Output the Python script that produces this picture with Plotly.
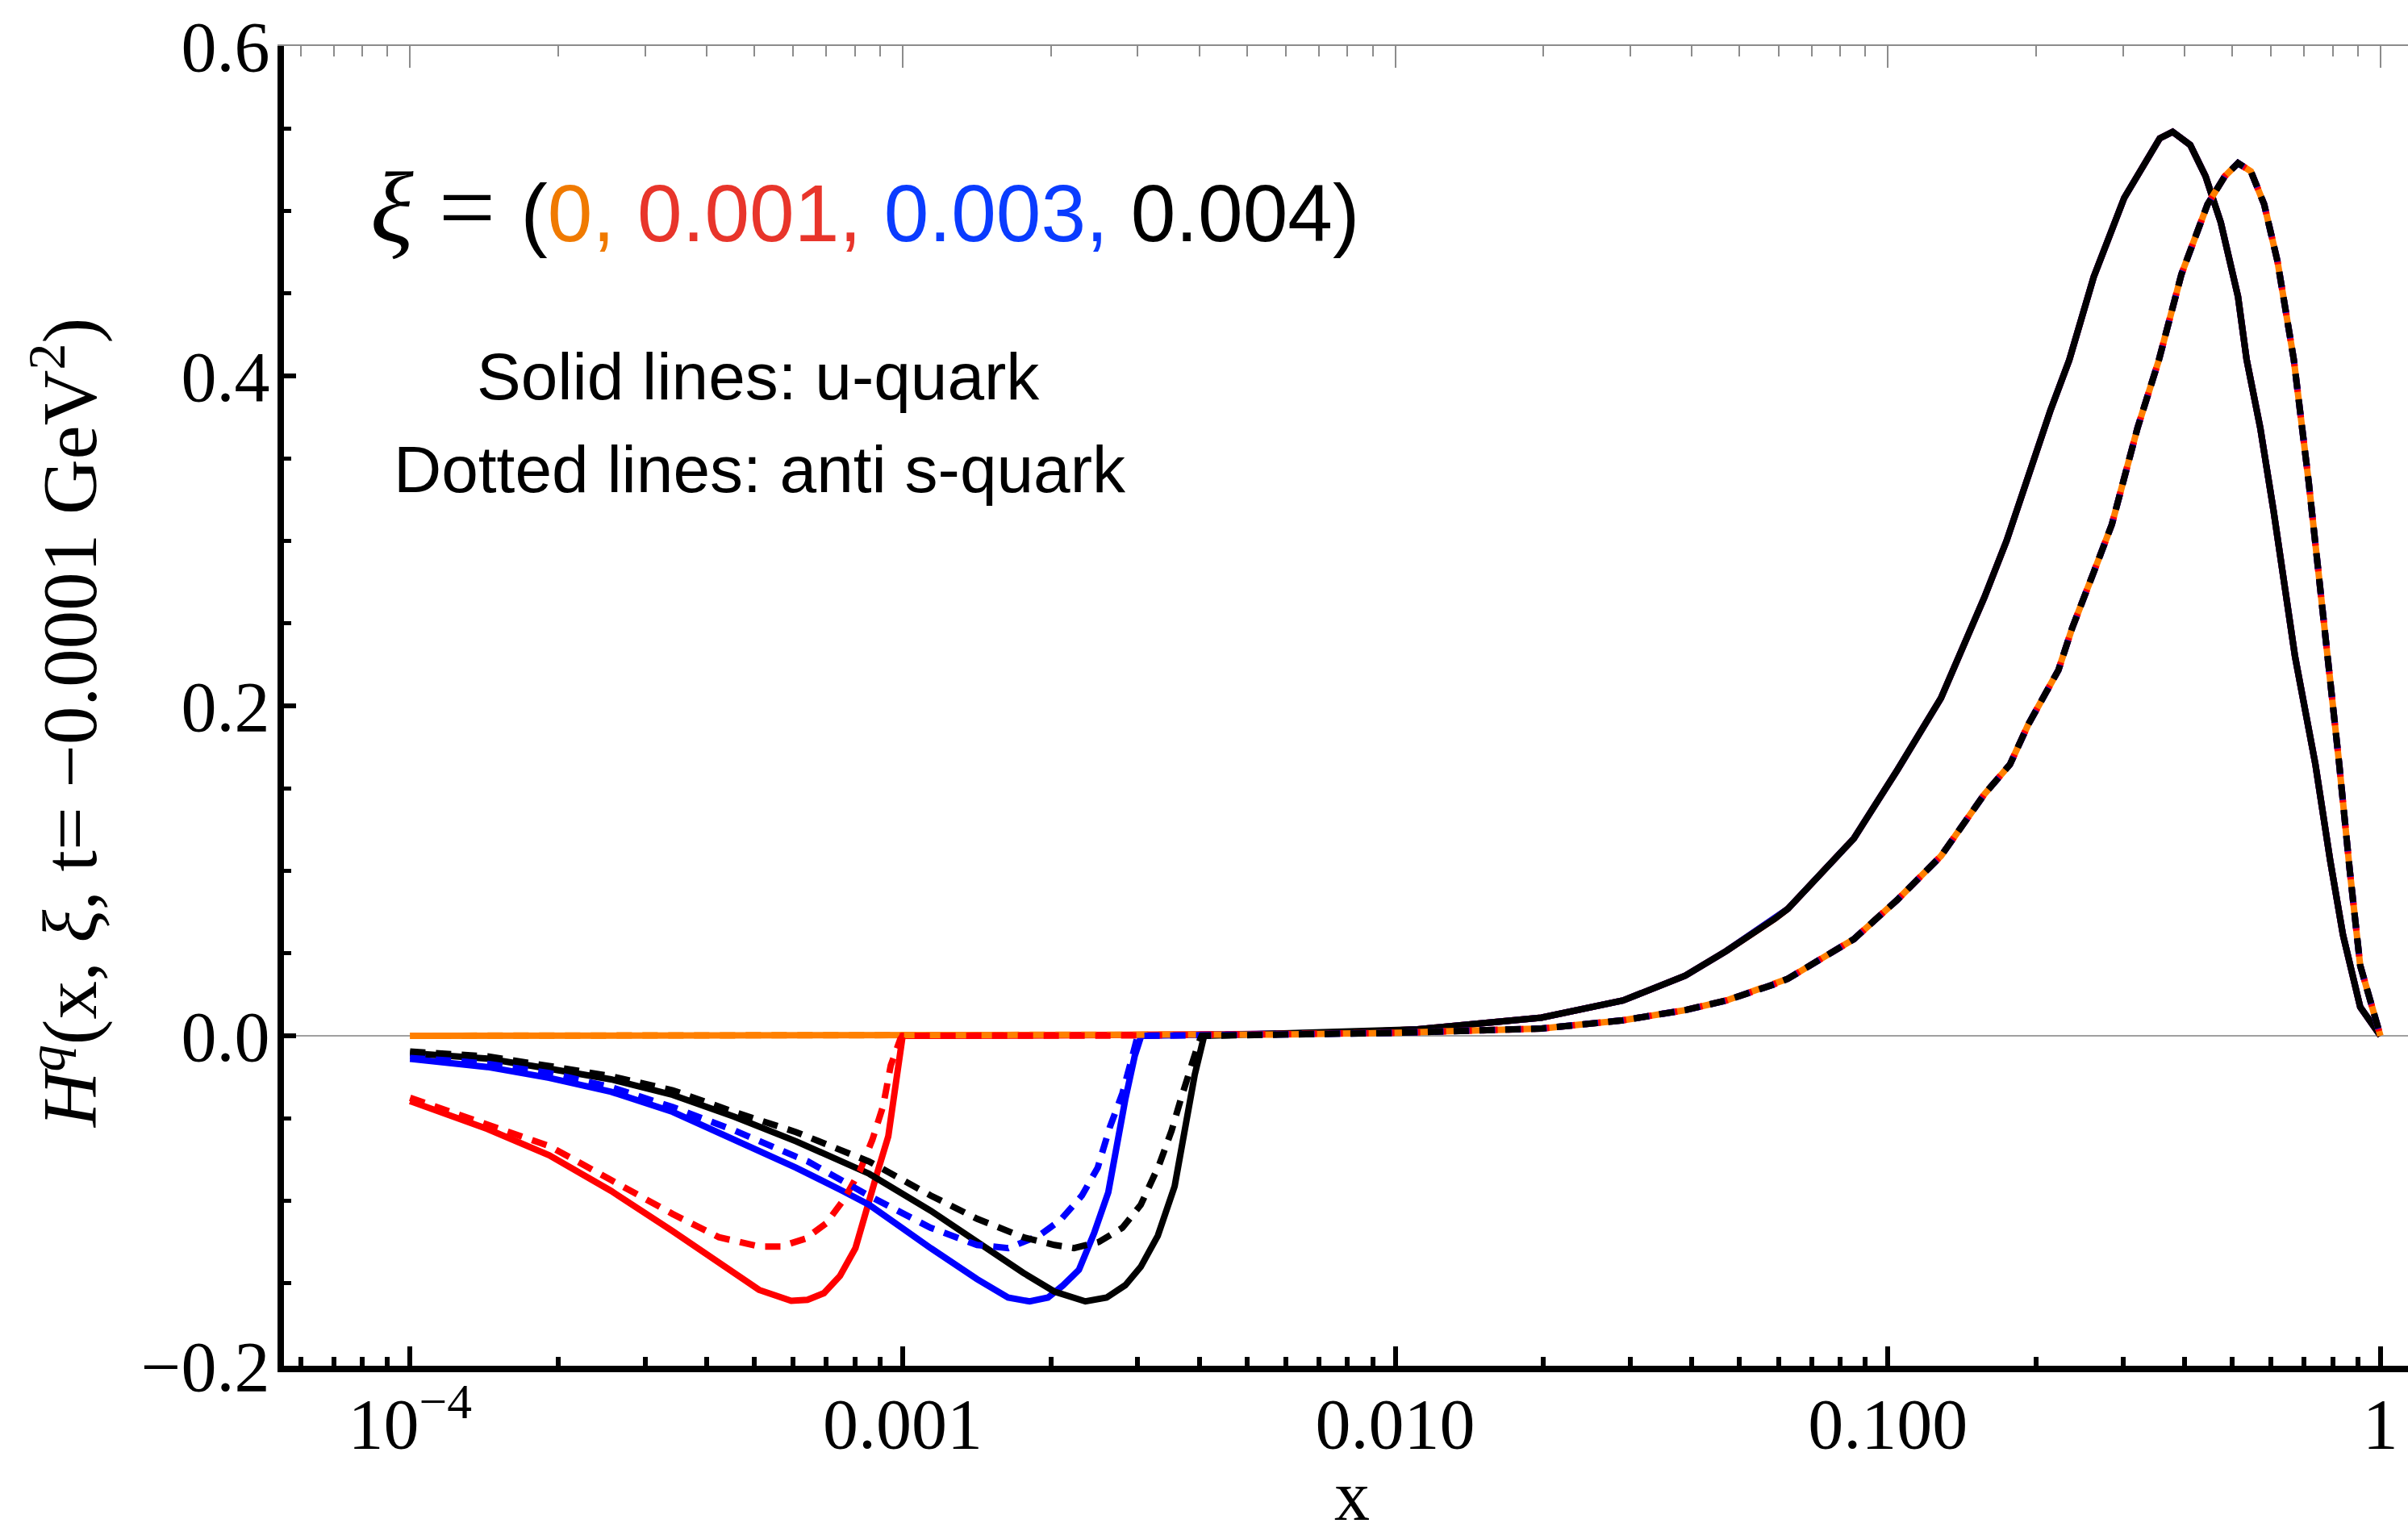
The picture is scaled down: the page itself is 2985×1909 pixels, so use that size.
import plotly.graph_objects as go

# ---------------- data ----------------
# shared curves for x >= xi (all xi values coincide there)
x_u_large = [1.0e-4, 1.0e-3, 2.0e-3, 3.0e-3, 4.0e-3, 6.0e-3, 8.0e-3, 0.0111, 0.0198, 0.029, 0.0388,
             0.047, 0.059, 0.0627, 0.0853, 0.1045, 0.1282, 0.1419, 0.157, 0.1742, 0.2138, 0.2335,
             0.2618, 0.302, 0.3565, 0.3786, 0.4111, 0.4416, 0.4742, 0.514, 0.535, 0.5702, 0.607,
             0.671, 0.738, 0.7907, 0.8395, 0.9099, 1.0]
y_u_large = [0.0, 0.0, 0.0002, 0.0004, 0.0006, 0.0012, 0.002, 0.0039, 0.011, 0.0214, 0.0365,
             0.0514, 0.071, 0.077, 0.1196, 0.161, 0.2047, 0.2357, 0.2657, 0.30, 0.379, 0.4096,
             0.46, 0.508, 0.544, 0.548, 0.540, 0.521, 0.493, 0.448, 0.41, 0.3686, 0.318,
             0.2298, 0.1645, 0.1063, 0.0612, 0.0174, 0.0]

x_s_large = [1.0e-4, 1.0e-3, 3.0e-3, 6.0e-3, 0.01, 0.0198, 0.029, 0.0388, 0.047, 0.059, 0.0627,
             0.0853, 0.1045, 0.1282, 0.157, 0.177, 0.1928, 0.222, 0.2366, 0.2618, 0.285, 0.3214,
             0.355, 0.3945, 0.4457, 0.4831, 0.514, 0.5458, 0.5808, 0.618, 0.6427, 0.667, 0.715,
             0.751, 0.78, 0.825, 0.866, 0.9099, 1.0]
y_s_large = [0.0, 0.0, 0.0002, 0.0008, 0.0018, 0.0044, 0.0094, 0.0156, 0.0214, 0.0314, 0.0346,
             0.0586, 0.0824, 0.109, 0.1464, 0.1645, 0.1887, 0.2217, 0.247, 0.281, 0.31, 0.3686,
             0.4096, 0.4616, 0.504, 0.521, 0.529, 0.524, 0.504, 0.4696, 0.4377, 0.41, 0.336,
             0.279, 0.238, 0.1645, 0.101, 0.0426, 0.0]

# xi = 0.001 (red), region x < xi
x_u_r = [1.0e-4, 1.436e-4, 1.916e-4, 2.559e-4, 3.412e-4, 4.236e-4, 5.11e-4, 5.94e-4, 6.41e-4,
         6.92e-4, 7.46e-4, 8.02e-4, 8.43e-4, 8.87e-4, 9.35e-4, 9.66e-4, 1.0e-3]
y_u_r = [-0.0396, -0.0565, -0.0724, -0.094, -0.1184, -0.138, -0.154, -0.1606, -0.160,
         -0.156, -0.1456, -0.1287, -0.108, -0.0836, -0.061, -0.031, 0.0]
x_s_r = [1.0e-4, 1.436e-4, 1.916e-4, 2.559e-4, 3.412e-4, 4.236e-4, 5.11e-4, 5.65e-4, 6.35e-4,
         6.99e-4, 7.62e-4, 8.19e-4, 8.68e-4, 9.13e-4, 9.46e-4, 9.89e-4, 1.0e-3]
y_s_r = [-0.0376, -0.0537, -0.0668, -0.0874, -0.108, -0.1221, -0.1277, -0.1277, -0.123,
         -0.1137, -0.0987, -0.0818, -0.063, -0.0424, -0.0179, -0.002, 0.0]

# xi = 0.003 (blue)
x_u_b = [1.0e-4, 1.436e-4, 1.916e-4, 2.559e-4, 3.412e-4, 4.55e-4, 6.08e-4, 7.55e-4, 8.55e-4,
         1.14e-3, 1.416e-3, 1.637e-3, 1.811e-3, 1.972e-3, 2.118e-3, 2.28e-3, 2.449e-3, 2.615e-3,
         2.71e-3, 2.831e-3, 2.958e-3, 3.05e-3]
y_u_b = [-0.0139, -0.0189, -0.0255, -0.0339, -0.0461, -0.063, -0.080, -0.094, -0.1024,
         -0.1287, -0.1475, -0.1587, -0.161, -0.1587, -0.1512, -0.1418, -0.1193, -0.0949,
         -0.0686, -0.0386, -0.0124, 0.0]
x_s_b = [1.0e-4, 1.436e-4, 1.916e-4, 2.559e-4, 3.412e-4, 4.55e-4, 6.08e-4, 6.41e-4, 8.55e-4,
         1.14e-3, 1.416e-3, 1.637e-3, 1.891e-3, 2.089e-3, 2.312e-3, 2.489e-3, 2.633e-3, 2.793e-3,
         2.893e-3, 3.0e-3]
y_s_b = [-0.0124, -0.017, -0.0226, -0.0311, -0.0432, -0.0573, -0.0733, -0.076, -0.097,
         -0.1164, -0.1268, -0.1287, -0.1212, -0.1118, -0.0968, -0.0799, -0.0555, -0.0349,
         -0.018, 0.0]

# xi = 0.004 (black)
x_u_k = [1.0e-4, 1.436e-4, 1.916e-4, 2.559e-4, 3.412e-4, 4.55e-4, 6.08e-4, 8.55e-4, 1.14e-3,
         1.416e-3, 1.758e-3, 2.032e-3, 2.35e-3, 2.594e-3, 2.831e-3, 3.044e-3, 3.296e-3, 3.566e-3,
         3.75e-3, 3.917e-3, 4.093e-3]
y_u_k = [-0.0105, -0.0138, -0.0199, -0.0264, -0.0358, -0.049, -0.064, -0.0836, -0.106,
         -0.125, -0.1437, -0.155, -0.161, -0.1587, -0.1512, -0.140, -0.1212, -0.0912,
         -0.0555, -0.0236, 0.0]
x_s_k = [1.0e-4, 1.436e-4, 1.916e-4, 2.559e-4, 3.412e-4, 4.55e-4, 6.08e-4, 8.55e-4, 1.14e-3,
         1.416e-3, 1.758e-3, 2.032e-3, 2.228e-3, 2.501e-3, 2.793e-3, 3.044e-3, 3.319e-3, 3.516e-3,
         3.669e-3, 3.832e-3, 3.981e-3, 4.046e-3]
y_s_k = [-0.0095, -0.0125, -0.0183, -0.0245, -0.033, -0.0462, -0.0584, -0.0762, -0.0968,
         -0.1109, -0.1221, -0.1268, -0.1287, -0.125, -0.1164, -0.1024, -0.078, -0.0574,
         -0.0386, -0.0199, -0.005, 0.0]

xi_labels = ["0", "0.001", "0.003", "0.004"]
colors = ["#FF8000", "#FF0000", "#0000FF", "#000000"]
text_colors = ["#F07A00", "#E8352B", "#0A3CFF", "#000000"]

x_tickvals = [1e-4, 1e-3, 1e-2, 1e-1, 1.0]
x_ticktext = ["10<sup>\u22124</sup>", "0.001", "0.010", "0.100", "1"]
y_tickvals = [-0.2, 0.0, 0.2, 0.4, 0.6]
y_ticktext = ["\u22120.2", "0.0", "0.2", "0.4", "0.6"]


def join(xs, ys, xl, yl):
    """small-x branch followed by the shared large-x branch (points beyond its end)."""
    xe = xs[-1]
    ox = list(xs) + [a for a in xl if a > xe]
    oy = list(ys) + [b for a, b in zip(xl, yl) if a > xe]
    return ox, oy


solid_sets = [(x_u_large, y_u_large)] + [join(a, b, x_u_large, y_u_large)
                                         for a, b in [(x_u_r, y_u_r), (x_u_b, y_u_b), (x_u_k, y_u_k)]]
dash_sets = [(x_s_large, y_s_large)] + [join(a, b, x_s_large, y_s_large)
                                        for a, b in [(x_s_r, y_s_r), (x_s_b, y_s_b), (x_s_k, y_s_k)]]

fig = go.Figure()
LW = 8
for (xx, yy), c in zip(solid_sets, colors):
    fig.add_trace(go.Scatter(x=xx, y=yy, mode="lines", line=dict(color=c, width=LW),
                             showlegend=False, hoverinfo="skip"))
for (xx, yy), c in zip(dash_sets, colors):
    fig.add_trace(go.Scatter(x=xx, y=yy, mode="lines",
                             line=dict(color=c, width=LW, dash="19px,13px"),
                             showlegend=False, hoverinfo="skip"))

# dummy trace to create the gray top (mirror) axis
fig.add_trace(go.Scatter(x=x_u_large[:1], y=y_u_large[:1], xaxis="x2", mode="markers",
                         marker=dict(opacity=0), showlegend=False, hoverinfo="skip"))

minor_x = [m * 10.0 ** e for e in range(-5, 0) for m in range(2, 10)]
XR = [-4.256, 0.056]
serif = "Liberation Serif"
sans = "Liberation Sans"

fig.update_layout(
    width=2985, height=1909,
    margin=dict(l=352, r=0, t=57, b=216),
    plot_bgcolor="white", paper_bgcolor="white",
    xaxis=dict(type="log", range=XR, showline=True, linecolor="black", linewidth=8,
               ticks="inside", ticklen=24, tickwidth=5.5, tickcolor="black",
               tickvals=x_tickvals, ticktext=x_ticktext,
               tickfont=dict(family=serif, size=88, color="black"),
               minor=dict(ticks="inside", ticklen=11, tickwidth=5.5, tickcolor="black",
                          tickvals=minor_x, showgrid=False),
               showgrid=False, zeroline=False, ticklabelstandoff=-12),
    xaxis2=dict(type="log", range=XR, overlaying="x", side="top", anchor="y",
                showline=True, linecolor="#8c8c8c", linewidth=2,
                ticks="inside", ticklen=27, tickwidth=2, tickcolor="#8c8c8c",
                tickvals=x_tickvals, showticklabels=False,
                minor=dict(ticks="inside", ticklen=13, tickwidth=2, tickcolor="#8c8c8c",
                           tickvals=minor_x, showgrid=False),
                showgrid=False, zeroline=False),
    yaxis=dict(range=[-0.2, 0.6], showline=True, linecolor="black", linewidth=8,
               ticks="inside", ticklen=15, tickwidth=6, tickcolor="black",
               tickvals=y_tickvals, ticktext=y_ticktext,
               tickfont=dict(family=serif, size=88, color="black"),
               minor=dict(ticks="inside", ticklen=9, tickwidth=5, tickcolor="black",
                          dtick=0.05, showgrid=False),
               showgrid=False, zeroline=True, zerolinecolor="#a0a0a0", zerolinewidth=1.5,
               ticklabelstandoff=-8),
)

xi_txt = ("<span style='font-family:Liberation Serif;font-size:125px'><i>\u03be</i> = </span>(" +
          "".join("<span style='color:%s'>%s%s</span>" % (tc, lab, ", " if i < 3 else "")
                  for i, (tc, lab) in enumerate(zip(text_colors, xi_labels))) + ")")

fig.add_annotation(text=xi_txt, xref="paper", yref="paper", x=0.0399, y=0.8778,
                   xanchor="left", yanchor="middle", showarrow=False,
                   font=dict(family=sans, size=100, color="black"))
fig.add_annotation(text="Solid lines: u-quark", xref="paper", yref="paper", x=0.2233, y=0.750,
                   xanchor="center", yanchor="middle", showarrow=False,
                   font=dict(family=sans, size=82, color="black"))
fig.add_annotation(text="Dotted lines: anti s-quark", xref="paper", yref="paper", x=0.2241, y=0.6797,
                   xanchor="center", yanchor="middle", showarrow=False,
                   font=dict(family=sans, size=82, color="black"))
fig.add_annotation(text="<i>H</i><sup><i>q</i></sup>(x, <i>\u03be</i>, t= \u22120.0001 GeV<sup>2</sup>)",
                   xref="paper", yref="paper", x=-0.103, y=0.487, textangle=-90,
                   xanchor="center", yanchor="middle", showarrow=False,
                   font=dict(family=serif, size=95, color="black"))
fig.add_annotation(text="x", xref="paper", yref="paper", x=0.503, y=-0.099,
                   xanchor="center", yanchor="middle", showarrow=False,
                   font=dict(family=serif, size=88, color="black"))

fig.write_html("out.html")
